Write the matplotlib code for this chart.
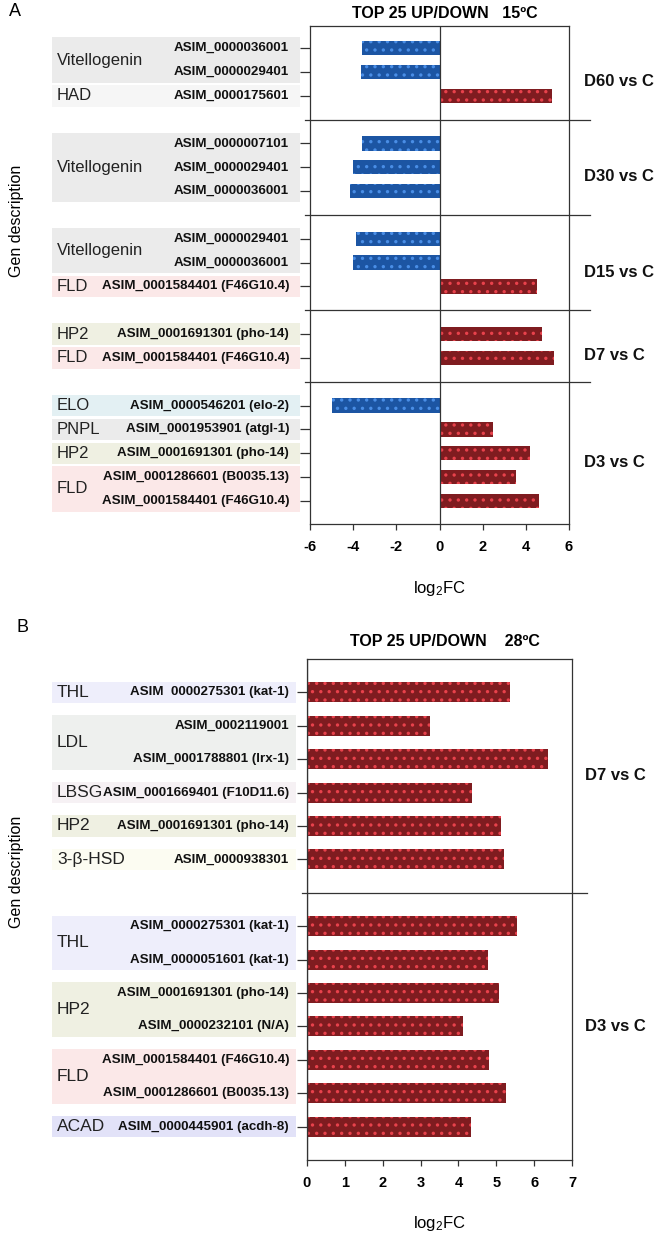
import matplotlib
matplotlib.use("Agg")
import matplotlib.pyplot as plt
import matplotlib.transforms as mtrans
from matplotlib.patches import Rectangle
from matplotlib.lines import Line2D

plt.rcParams['font.family'] = ['Liberation Sans', 'DejaVu Sans']
plt.rcParams['hatch.linewidth'] = 1.2
plt.rcParams['mathtext.default'] = 'regular'

# ---------------- DATA: panel A (15 ºC) ----------------
a_groups = ["D60 vs C", "D60 vs C", "D60 vs C",
            "D30 vs C", "D30 vs C", "D30 vs C",
            "D15 vs C", "D15 vs C", "D15 vs C",
            "D7 vs C", "D7 vs C",
            "D3 vs C", "D3 vs C", "D3 vs C", "D3 vs C", "D3 vs C"]
a_categories = ["Vitellogenin", "Vitellogenin", "HAD",
                "Vitellogenin", "Vitellogenin", "Vitellogenin",
                "Vitellogenin", "Vitellogenin", "FLD",
                "HP2", "FLD",
                "ELO", "PNPL", "HP2", "FLD", "FLD"]
a_genes = ["ASIM_0000036001", "ASIM_0000029401", "ASIM_0000175601",
           "ASIM_0000007101", "ASIM_0000029401", "ASIM_0000036001",
           "ASIM_0000029401", "ASIM_0000036001", "ASIM_0001584401 (F46G10.4)",
           "ASIM_0001691301 (pho-14)", "ASIM_0001584401 (F46G10.4)",
           "ASIM_0000546201 (elo-2)", "ASIM_0001953901 (atgl-1)",
           "ASIM_0001691301 (pho-14)", "ASIM_0001286601 (B0035.13)",
           "ASIM_0001584401 (F46G10.4)"]
a_values = [-3.61, -3.65, 5.23,
            -3.57, -4.03, -4.14,
            -3.88, -4.02, 4.54,
            4.74, 5.32,
            -4.98, 2.46, 4.17, 3.54, 4.63]
a_xticks = [-6, -4, -2, 0, 2, 4, 6]

# ---------------- DATA: panel B (28 ºC) ----------------
b_groups = ["D7 vs C"] * 6 + ["D3 vs C"] * 7
b_categories = ["THL", "LDL", "LDL", "LBSG", "HP2", "3-β-HSD",
                "THL", "THL", "HP2", "HP2", "FLD", "FLD", "ACAD"]
b_genes = ["ASIM  0000275301 (kat-1)", "ASIM_0002119001",
           "ASIM_0001788801 (lrx-1)", "ASIM_0001669401 (F10D11.6)",
           "ASIM_0001691301 (pho-14)", "ASIM_0000938301",
           "ASIM_0000275301 (kat-1)", "ASIM_0000051601 (kat-1)",
           "ASIM_0001691301 (pho-14)", "ASIM_0000232101 (N/A)",
           "ASIM_0001584401 (F46G10.4)", "ASIM_0001286601 (B0035.13)",
           "ASIM_0000445901 (acdh-8)"]
b_values = [5.37, 3.25, 6.37, 4.35, 5.11, 5.21,
            5.55, 4.77, 5.08, 4.11, 4.80, 5.25, 4.33]
b_xticks = [0, 1, 2, 3, 4, 5, 6, 7]

cat_colors = {"Vitellogenin": "#ebebeb", "HAD": "#f6f6f6", "FLD": "#fbe8e8",
              "HP2": "#eff0e2", "ELO": "#e3f0f3", "PNPL": "#ebebeb",
              "THL": "#eeeefb", "LDL": "#eef0ee", "LBSG": "#f6f1f4",
              "3-β-HSD": "#fcfcf2", "ACAD": "#e2e2f8"}

UP_FACE, UP_HATCH = "#7f1c20", "#e8424c"
DN_FACE, DN_HATCH = "#1c55a3", "#4a8ee6"
LINE = "#333333"

W, H = 655, 1240
fig = plt.figure(figsize=(W / 100, H / 100), dpi=100)


def fx(px):
    return px / W


def fy(py):
    return 1 - py / H


def rows_for(groups):
    rows, r, prev = [], 0, None
    seps = []
    for g in groups:
        if prev is not None and g != prev:
            seps.append(r)
            r += 1
        rows.append(r)
        r += 1
        prev = g
    return rows, seps


def draw_panel(ax, groups, cats, genes, vals, xticks, xlim, ylim,
               box_x, box_pad, cat_x, gene_x, sep_x, grp_x, grp_off,
               gene_fs, cat_fs):
    rows, seps = rows_for(groups)
    for r, v in zip(rows, vals):
        up = v >= 0
        ax.barh(r, v, height=0.6,
                color=UP_FACE if up else DN_FACE,
                edgecolor=UP_HATCH if up else DN_HATCH,
                hatch='..', linewidth=0, zorder=2)
    ax.set_xlim(*xlim)
    ax.set_ylim(*ylim)
    ax.set_xticks(xticks)
    ax.set_xticklabels([str(t) for t in xticks], fontsize=10.5, fontweight='bold')
    ax.set_yticks(rows)
    ax.set_yticklabels([])
    ax.tick_params(axis='y', length=7, width=0.9, color=LINE, direction='out')
    ax.tick_params(axis='x', length=4.5, width=0.9, color=LINE, pad=7)
    for s in ax.spines.values():
        s.set_color(LINE)
        s.set_linewidth(0.9)
    ax.axvline(0, color=LINE, lw=0.9, zorder=3)

    tr = mtrans.blended_transform_factory(fig.transFigure, ax.transData)
    # separators
    for s in seps:
        fig.add_artist(Line2D([fx(sep_x[0]), fx(sep_x[1])], [s, s],
                              transform=tr, color=LINE, lw=0.9))
    # category boxes (consecutive identical categories within a group)
    i = 0
    n = len(rows)
    while i < n:
        j = i
        while j + 1 < n and cats[j + 1] == cats[i] and groups[j + 1] == groups[i]:
            j += 1
        y0 = rows[i] - box_pad
        y1 = rows[j] + box_pad
        fig.add_artist(Rectangle((fx(box_x[0]), y0), fx(box_x[1]) - fx(box_x[0]),
                                 y1 - y0, transform=tr,
                                 facecolor=cat_colors[cats[i]], edgecolor='none',
                                 zorder=0))
        fig.text(fx(cat_x), (rows[i] + rows[j]) / 2, cats[i], transform=tr,
                 ha='left', va='center', fontsize=cat_fs, color='#222222')
        i = j + 1
    # gene labels
    for r, gname in zip(rows, genes):
        fig.text(fx(gene_x), r, gname, transform=tr, ha='right', va='center',
                 fontsize=gene_fs, fontweight='bold', color='#111111')
    # group labels
    seen = []
    for g in groups:
        if g not in seen:
            seen.append(g)
    for g in seen:
        rr = [r for r, gg in zip(rows, groups) if gg == g]
        mid = (rr[0] + rr[-1]) / 2 + grp_off
        fig.text(fx(grp_x), mid, g, transform=tr, ha='left', va='center',
                 fontsize=12, fontweight='bold', color='#111111')


# ---------------- Panel A ----------------
axA = fig.add_axes([fx(310), fy(524), fx(569) - fx(310), fy(26) - fy(524)])
draw_panel(axA, a_groups, a_categories, a_genes, a_values, a_xticks,
           (-6, 6), (19.97, -0.93),
           box_x=(52, 300), box_pad=0.45, cat_x=57, gene_x=289,
           sep_x=(305, 590), grp_x=584, grp_off=0.4,
           gene_fs=9.6, cat_fs=12)
axA.set_xlabel("log$_2$FC", fontsize=12, labelpad=18)

# ---------------- Panel B ----------------
axB = fig.add_axes([fx(306.7), fy(1160), fx(572.3) - fx(306.7), fy(659) - fy(1160)])
draw_panel(axB, b_groups, b_categories, b_genes, b_values, b_xticks,
           (0, 7), (14.0, -1.0),
           box_x=(52, 296), box_pad=0.32, cat_x=57, gene_x=289,
           sep_x=(302, 587), grp_x=585, grp_off=0.0,
           gene_fs=9.6, cat_fs=12.5)
axB.set_xlabel("log$_2$FC", fontsize=12, labelpad=17)

# ---------------- titles and labels ----------------
fig.text(fx(445), fy(13), "TOP 25 UP/DOWN   15ºC", ha='center', va='center',
         fontsize=11.5, fontweight='bold')
fig.text(fx(445), fy(642), "TOP 25 UP/DOWN    28ºC", ha='center', va='center',
         fontsize=11.5, fontweight='bold')
fig.text(fx(17), fy(221), "Gen description", rotation=90, ha='center',
         va='center', fontsize=11.5)
fig.text(fx(17), fy(872), "Gen description", rotation=90, ha='center',
         va='center', fontsize=11.5)
fig.text(fx(15), fy(11), "A", ha='center', va='center', fontsize=13)
fig.text(fx(23), fy(628), "B", ha='center', va='center', fontsize=13)

fig.savefig("out.png", dpi=100)
